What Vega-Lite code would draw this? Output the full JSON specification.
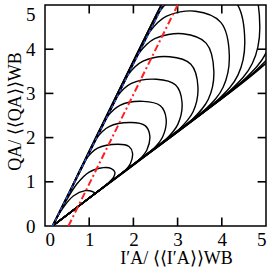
{
  "$schema": "https://vega.github.io/schema/vega-lite/v6.json",
  "width": 221,
  "height": 221,
  "autosize": "none",
  "padding": {"left": 45, "top": 5, "right": 4, "bottom": 46},
  "config": {
    "view": {"stroke": "black", "strokeWidth": 1.5},
    "font": "Liberation Serif",
    "axis": {
      "domain": false,
      "ticks": false,
      "grid": false,
      "labelFont": "Liberation Serif",
      "labelFontSize": 19,
      "labelColor": "black",
      "titleFont": "Liberation Serif",
      "titleFontSize": 18,
      "titleFontWeight": "normal",
      "titleColor": "black"
    }
  },
  "layer": [
    {
      "data": {"values": [{"t":1},{"t":2},{"t":3},{"t":4}]},
      "mark": {"type": "rule", "color": "black", "strokeWidth": 1.6},
      "encoding": {"x": {"field": "t", "type": "quantitative", "scale": {"domain": [0, 5], "nice": false, "zero": false},
              "axis": {"values": [0,1,2,3,4,5], "format": "d", "labelPadding": 4, "title": "I′A/ ⟨⟨I′A⟩⟩WB", "titleX": 131, "titleY": 37, "titleBaseline": "alphabetic", "titleAlign": "center"}},
                   "y": {"datum": 0, "type": "quantitative", "scale": {"domain": [0, 5], "nice": false, "zero": false},
              "axis": {"values": [0,1,2,3,4,5], "format": "d", "labelPadding": 10,
                       "labelBaseline": {"condition": {"test": "datum.value == 5", "value": "top"}, "value": "middle"},
                       "title": "QA/ ⟨⟨QA⟩⟩WB", "titleX": -25, "titleY": 106, "titleBaseline": "alphabetic", "titleAlign": "center", "titleAngle": -90}},
                   "y2": {"datum": 0.19}}
    },
    {
      "data": {"values": [{"t":1},{"t":2},{"t":3},{"t":4}]},
      "mark": {"type": "rule", "color": "black", "strokeWidth": 1.6},
      "encoding": {"x": {"field": "t", "type": "quantitative"}, "y": {"datum": 5, "type": "quantitative"}, "y2": {"datum": 4.81}}
    },
    {
      "data": {"values": [{"t":1},{"t":2},{"t":3},{"t":4}]},
      "mark": {"type": "rule", "color": "black", "strokeWidth": 1.6},
      "encoding": {"y": {"field": "t", "type": "quantitative"}, "x": {"datum": 0, "type": "quantitative"}, "x2": {"datum": 0.19}}
    },
    {
      "data": {"values": [{"t":1},{"t":2},{"t":3},{"t":4}]},
      "mark": {"type": "rule", "color": "black", "strokeWidth": 1.6},
      "encoding": {"y": {"field": "t", "type": "quantitative"}, "x": {"datum": 5, "type": "quantitative"}, "x2": {"datum": 4.81}}
    },
    {
      "data": {"values": [
        {"k":1,"i":0,"x":0.17,"y":0},{"k":1,"i":1,"x":0.40,"y":0.40},{"k":1,"i":2,"x":0.64,"y":0.68},{"k":1,"i":3,"x":0.91,"y":0.80},{"k":1,"i":4,"x":1.07,"y":0.78},{"k":1,"i":5,"x":1.13,"y":0.74},{"k":1,"i":6,"x":1.02,"y":0.65},{"k":1,"i":7,"x":0.75,"y":0.44},{"k":1,"i":8,"x":0.45,"y":0.21},{"k":1,"i":9,"x":0.17,"y":0},
        {"k":2,"i":0,"x":0.17,"y":0},{"k":2,"i":1,"x":0.42,"y":0.47},{"k":2,"i":2,"x":0.72,"y":0.95},{"k":2,"i":3,"x":1.0,"y":1.22},{"k":2,"i":4,"x":1.32,"y":1.32},{"k":2,"i":5,"x":1.50,"y":1.30},{"k":2,"i":6,"x":1.58,"y":1.22},{"k":2,"i":7,"x":1.55,"y":1.10},{"k":2,"i":8,"x":1.40,"y":0.95},{"k":2,"i":9,"x":0.80,"y":0.48},{"k":2,"i":10,"x":0.17,"y":0},
        {"k":3,"i":0,"x":0.17,"y":0},{"k":3,"i":1,"x":0.545,"y":0.75},{"k":3,"i":2,"x":0.92,"y":1.50},{"k":3,"i":3,"x":1.19,"y":1.76},{"k":3,"i":4,"x":1.65,"y":1.85},{"k":3,"i":5,"x":1.90,"y":1.80},{"k":3,"i":6,"x":1.98,"y":1.65},{"k":3,"i":7,"x":1.93,"y":1.41},{"k":3,"i":8,"x":1.78,"y":1.227},{"k":3,"i":9,"x":0.975,"y":0.613},{"k":3,"i":10,"x":0.17,"y":0},
        {"k":4,"i":0,"x":0.17,"y":0},{"k":4,"i":1,"x":0.665,"y":0.99},{"k":4,"i":2,"x":1.16,"y":1.98},{"k":4,"i":3,"x":1.45,"y":2.25},{"k":4,"i":4,"x":1.95,"y":2.34},{"k":4,"i":5,"x":2.265,"y":2.27},{"k":4,"i":6,"x":2.37,"y":2.05},{"k":4,"i":7,"x":2.305,"y":1.72},{"k":4,"i":8,"x":2.11,"y":1.478},{"k":4,"i":9,"x":1.14,"y":0.739},{"k":4,"i":10,"x":0.17,"y":0},
        {"k":5,"i":0,"x":0.17,"y":0},{"k":5,"i":1,"x":0.785,"y":1.23},{"k":5,"i":2,"x":1.40,"y":2.46},{"k":5,"i":3,"x":1.695,"y":2.73},{"k":5,"i":4,"x":2.22,"y":2.82},{"k":5,"i":5,"x":2.61,"y":2.72},{"k":5,"i":6,"x":2.74,"y":2.43},{"k":5,"i":7,"x":2.66,"y":2.015},{"k":5,"i":8,"x":2.42,"y":1.715},{"k":5,"i":9,"x":1.295,"y":0.857},{"k":5,"i":10,"x":0.17,"y":0},
        {"k":6,"i":0,"x":0.17,"y":0},{"k":6,"i":1,"x":0.905,"y":1.47},{"k":6,"i":2,"x":1.64,"y":2.94},{"k":6,"i":3,"x":1.955,"y":3.225},{"k":6,"i":4,"x":2.52,"y":3.32},{"k":6,"i":5,"x":2.955,"y":3.19},{"k":6,"i":6,"x":3.10,"y":2.80},{"k":6,"i":7,"x":3.005,"y":2.30},{"k":6,"i":8,"x":2.72,"y":1.943},{"k":6,"i":9,"x":1.445,"y":0.972},{"k":6,"i":10,"x":0.17,"y":0},
        {"k":7,"i":0,"x":0.17,"y":0},{"k":7,"i":1,"x":1.025,"y":1.71},{"k":7,"i":2,"x":1.88,"y":3.42},{"k":7,"i":3,"x":2.2175,"y":3.7275},{"k":7,"i":4,"x":2.82,"y":3.83},{"k":7,"i":5,"x":3.30,"y":3.66},{"k":7,"i":6,"x":3.46,"y":3.15},{"k":7,"i":7,"x":3.35,"y":2.584},{"k":7,"i":8,"x":3.02,"y":2.172},{"k":7,"i":9,"x":1.595,"y":1.086},{"k":7,"i":10,"x":0.17,"y":0},
        {"k":8,"i":0,"x":0.17,"y":0},{"k":8,"i":1,"x":1.145,"y":1.95},{"k":8,"i":2,"x":2.12,"y":3.90},{"k":8,"i":3,"x":2.4825,"y":4.2375},{"k":8,"i":4,"x":3.12,"y":4.35},{"k":8,"i":5,"x":3.645,"y":4.1375},{"k":8,"i":6,"x":3.82,"y":3.50},{"k":8,"i":7,"x":3.695,"y":2.866},{"k":8,"i":8,"x":3.32,"y":2.40},{"k":8,"i":9,"x":1.745,"y":1.20},{"k":8,"i":10,"x":0.17,"y":0},
        {"k":9,"i":0,"x":0.17,"y":0},{"k":9,"i":1,"x":1.265,"y":2.19},{"k":9,"i":2,"x":2.36,"y":4.38},{"k":9,"i":3,"x":2.74,"y":4.74},{"k":9,"i":4,"x":3.40,"y":4.86},{"k":9,"i":5,"x":3.9775,"y":4.6075},{"k":9,"i":6,"x":4.17,"y":3.85},{"k":9,"i":7,"x":4.03,"y":3.14},{"k":9,"i":8,"x":3.61,"y":2.621},{"k":9,"i":9,"x":1.89,"y":1.311},{"k":9,"i":10,"x":0.17,"y":0},
        {"k":10,"i":0,"x":0.17,"y":0},{"k":10,"i":1,"x":1.385,"y":2.43},{"k":10,"i":2,"x":2.60,"y":4.86},{"k":10,"i":3,"x":2.9975,"y":5.2425},{"k":10,"i":4,"x":3.68,"y":5.37},{"k":10,"i":5,"x":4.31,"y":5.0725},{"k":10,"i":6,"x":4.52,"y":4.18},{"k":10,"i":7,"x":4.365,"y":3.413},{"k":10,"i":8,"x":3.90,"y":2.842},{"k":10,"i":9,"x":2.035,"y":1.421},{"k":10,"i":10,"x":0.17,"y":0},
        {"k":11,"i":0,"x":0.17,"y":0},{"k":11,"i":1,"x":1.505,"y":2.67},{"k":11,"i":2,"x":2.84,"y":5.34},{"k":11,"i":3,"x":3.255,"y":5.745},{"k":11,"i":4,"x":3.96,"y":5.88},{"k":11,"i":5,"x":4.635,"y":5.535},{"k":11,"i":6,"x":4.86,"y":4.50},{"k":11,"i":7,"x":4.69,"y":3.676},{"k":11,"i":8,"x":4.18,"y":3.056},{"k":11,"i":9,"x":2.175,"y":1.528},{"k":11,"i":10,"x":0.17,"y":0},
        {"k":12,"i":0,"x":0.17,"y":0},{"k":12,"i":1,"x":1.625,"y":2.91},{"k":12,"i":2,"x":3.08,"y":5.82},{"k":12,"i":3,"x":3.515,"y":6.255},{"k":12,"i":4,"x":4.24,"y":6.40},{"k":12,"i":5,"x":4.96,"y":6.005},{"k":12,"i":6,"x":5.20,"y":4.82},{"k":12,"i":7,"x":5.015,"y":3.94},{"k":12,"i":8,"x":4.46,"y":3.269},{"k":12,"i":9,"x":2.315,"y":1.634},{"k":12,"i":10,"x":0.17,"y":0},
        {"k":13,"i":0,"x":5.52,"y":5.12},{"k":13,"i":1,"x":5.32,"y":4.185},{"k":13,"i":2,"x":4.72,"y":3.467},{"k":13,"i":3,"x":2.445,"y":1.733},{"k":13,"i":4,"x":0.17,"y":0},
        {"k":14,"i":0,"x":5.84,"y":5.42},{"k":14,"i":1,"x":5.625,"y":4.43},{"k":14,"i":2,"x":4.98,"y":3.665},{"k":14,"i":3,"x":2.575,"y":1.833},{"k":14,"i":4,"x":0.17,"y":0}
      ]},
      "mark": {"type": "line", "interpolate": "catmull-rom", "color": "black", "strokeWidth": 1.4, "clip": true},
      "encoding": {
        "x": {"field": "x", "type": "quantitative"},
        "y": {"field": "y", "type": "quantitative"},
        "detail": {"field": "k", "type": "nominal"},
        "order": {"field": "i", "type": "quantitative"}
      }
    },
    {
      "data": {"values": [
        {"s":"upper","i":0,"x":0.17,"y":0},{"s":"upper","i":1,"x":2.67,"y":5},
        {"s":"lower","i":0,"x":0.17,"y":0},{"s":"lower","i":1,"x":5,"y":3.68}
      ]},
      "mark": {"type": "line", "color": "black", "strokeWidth": 1.4, "clip": true},
      "encoding": {
        "x": {"field": "x", "type": "quantitative"},
        "y": {"field": "y", "type": "quantitative"},
        "detail": {"field": "s", "type": "nominal"},
        "order": {"field": "i", "type": "quantitative"}
      }
    },
    {
      "data": {"values": [{"i":0,"x":0.17,"y":0},{"i":1,"x":2.67,"y":5}]},
      "mark": {"type": "line", "color": "#2f55e0", "strokeWidth": 1.4, "strokeDash": [3, 3], "clip": true},
      "encoding": {
        "x": {"field": "x", "type": "quantitative"},
        "y": {"field": "y", "type": "quantitative"},
        "order": {"field": "i", "type": "quantitative"}
      }
    },
    {
      "data": {"values": [{"i":0,"x":0.53,"y":0},{"i":1,"x":3.0,"y":5}]},
      "mark": {"type": "line", "color": "#ff1f1f", "strokeWidth": 2, "strokeDash": [7, 3, 2, 3], "clip": true},
      "encoding": {
        "x": {"field": "x", "type": "quantitative"},
        "y": {"field": "y", "type": "quantitative"},
        "order": {"field": "i", "type": "quantitative"}
      }
    }
  ]
}
